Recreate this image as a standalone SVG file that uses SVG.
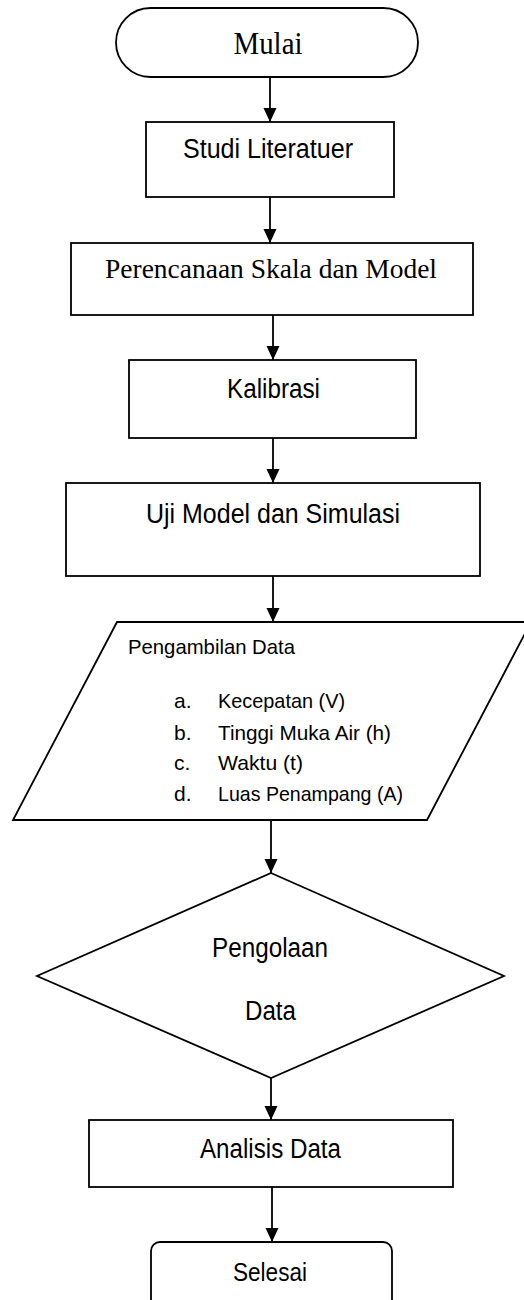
<svg xmlns="http://www.w3.org/2000/svg" width="524" height="1300" viewBox="0 0 524 1300">
<style>
.s{fill:#fff;stroke:#000;stroke-width:1.8}
.c{stroke:#000;stroke-width:1.8;fill:none}
.sans{font-family:"Liberation Sans",Arial,sans-serif;fill:#000}
.serif{font-family:"Liberation Serif","Times New Roman",serif;fill:#000}
</style>
<defs>
<marker id="ah" markerUnits="userSpaceOnUse" markerWidth="16" markerHeight="16" viewBox="0 0 16 16" refX="14" refY="8" orient="auto">
<path d="M0,1.5 L14,8 L0,14.5 Z" fill="#000"/>
</marker>
</defs>
<rect width="524" height="1300" fill="#fff"/>
<g id="connectors">
<line class="c" x1="270" y1="77" x2="270" y2="122" marker-end="url(#ah)"/>
<line class="c" x1="270" y1="197" x2="270" y2="243" marker-end="url(#ah)"/>
<line class="c" x1="273" y1="315" x2="273" y2="360" marker-end="url(#ah)"/>
<line class="c" x1="273" y1="438" x2="273" y2="483" marker-end="url(#ah)"/>
<line class="c" x1="273" y1="576" x2="273" y2="622" marker-end="url(#ah)"/>
<line class="c" x1="271" y1="820" x2="271" y2="873" marker-end="url(#ah)"/>
<line class="c" x1="271" y1="1078" x2="271" y2="1120" marker-end="url(#ah)"/>
<line class="c" x1="272" y1="1187" x2="272" y2="1242" marker-end="url(#ah)"/>
</g>
<g id="mulai">
<rect class="s" x="116" y="8" width="302" height="69" rx="34.5" ry="34.5"/>
<text class="serif" x="268" y="54" font-size="31" text-anchor="middle" textLength="69" lengthAdjust="spacingAndGlyphs">Mulai</text>
</g>
<g id="studi">
<rect class="s" x="146" y="122" width="248" height="75"/>
<text class="sans" x="268" y="158" font-size="27" text-anchor="middle" textLength="170" lengthAdjust="spacingAndGlyphs">Studi Literatuer</text>
</g>
<g id="perencanaan">
<rect class="s" x="71" y="243" width="402" height="72"/>
<text class="serif" x="271" y="278" font-size="27" text-anchor="middle" textLength="332" lengthAdjust="spacingAndGlyphs">Perencanaan Skala dan Model</text>
</g>
<g id="kalibrasi">
<rect class="s" x="129" y="360" width="287" height="78"/>
<text class="sans" x="273.5" y="398" font-size="27" text-anchor="middle" textLength="93" lengthAdjust="spacingAndGlyphs">Kalibrasi</text>
</g>
<g id="uji">
<rect class="s" x="66" y="483" width="414" height="93"/>
<text class="sans" x="273" y="523" font-size="27" text-anchor="middle" textLength="254" lengthAdjust="spacingAndGlyphs">Uji Model dan Simulasi</text>
</g>
<g id="pengambilan">
<polygon class="s" points="117,622 531,622 427,820 13,820"/>
<text class="sans" x="128" y="654" font-size="21" textLength="167" lengthAdjust="spacingAndGlyphs">Pengambilan Data</text>
<text class="sans" x="174" y="708" font-size="21">a.</text>
<text class="sans" x="218" y="708" font-size="21" textLength="127" lengthAdjust="spacingAndGlyphs">Kecepatan (V)</text>
<text class="sans" x="174" y="740" font-size="21">b.</text>
<text class="sans" x="218" y="740" font-size="21" textLength="173" lengthAdjust="spacingAndGlyphs">Tinggi Muka Air (h)</text>
<text class="sans" x="174" y="770" font-size="21">c.</text>
<text class="sans" x="218" y="770" font-size="21" textLength="85" lengthAdjust="spacingAndGlyphs">Waktu (t)</text>
<text class="sans" x="174" y="801" font-size="21">d.</text>
<text class="sans" x="218" y="801" font-size="21" textLength="185" lengthAdjust="spacingAndGlyphs">Luas Penampang (A)</text>
</g>
<g id="pengolaan">
<polygon class="s" points="271,873 504,976 271,1078 37,976"/>
<text class="sans" x="270" y="957" font-size="27" text-anchor="middle" textLength="116" lengthAdjust="spacingAndGlyphs">Pengolaan</text>
<text class="sans" x="270.5" y="1020" font-size="27" text-anchor="middle" textLength="51" lengthAdjust="spacingAndGlyphs">Data</text>
</g>
<g id="analisis">
<rect class="s" x="89" y="1120" width="364" height="67"/>
<text class="sans" x="270.5" y="1158" font-size="27" text-anchor="middle" textLength="141" lengthAdjust="spacingAndGlyphs">Analisis Data</text>
</g>
<g id="selesai">
<rect class="s" x="151" y="1242" width="241" height="80" rx="9" ry="9"/>
<text class="sans" x="270" y="1281" font-size="26" text-anchor="middle" textLength="74" lengthAdjust="spacingAndGlyphs">Selesai</text>
</g>
</svg>
